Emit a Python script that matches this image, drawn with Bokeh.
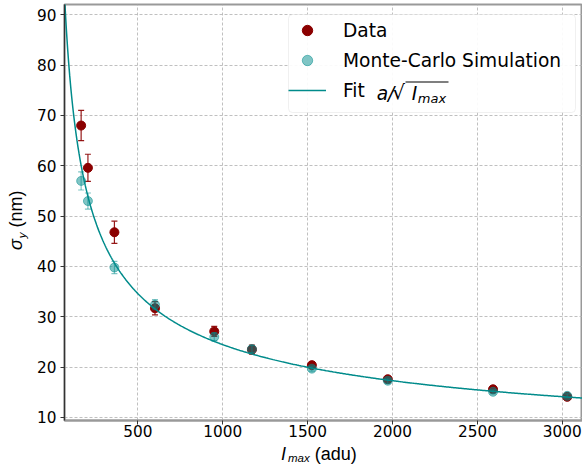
import numpy as np
from bokeh.plotting import figure
from bokeh.layouts import row, column
from bokeh.models import (Range1d, FixedTicker, Label, Legend, LegendItem,
                          BoxAnnotation, Div)
from bokeh.embed import file_html
from bokeh.resources import INLINE

# ---- data ----
I_MAX = [166, 206, 362, 601, 950, 1172, 1525, 1972, 2592, 3029]
SIGMA_DATA = [68.0, 59.6, 46.8, 31.7, 27.1, 23.5, 20.4, 17.6, 15.6, 14.1]
ERR_DATA = [3.0, 2.7, 2.2, 1.3, 1.0, 0.9, 0.6, 0.5, 0.5, 0.4]
SIGMA_SIM = [57.0, 53.0, 39.8, 32.4, 26.0, 23.6, 19.7, 17.3, 15.1, 14.3]
ERR_SIM = [1.8, 1.6, 1.2, 1.0, 0.8, 0.7, 0.5, 0.5, 0.4, 0.4]
FIT_A = 774.0          # fitted parameter a in a/sqrt(I_max)
X_TICKS = [500, 1000, 1500, 2000, 2500, 3000]
Y_TICKS = [10, 20, 30, 40, 50, 60, 70, 80, 90]
X_RANGE = (68, 3119)
Y_RANGE = (9.4, 92.05)

RED = "#8b0000"
TEAL = "#008b8b"
FONT = "DejaVu Sans"

# layout geometry (page px)
YLAB_W = 30
PW, PH = 582 - YLAB_W, 442
XLAB_H = 465 - PH
MB_L, MB_T, MB_B = 34, 4, 22
FL = YLAB_W + MB_L      # frame left (page)
FB = PH - MB_B          # frame bottom (page)


def sx(px):
    return px - FL


def sy(py):
    return FB - py


p = figure(width=PW, height=PH, output_backend="svg", toolbar_location=None,
           x_range=Range1d(*X_RANGE), y_range=Range1d(*Y_RANGE),
           min_border_left=MB_L, min_border_right=0, min_border_top=MB_T,
           min_border_bottom=MB_B)
p.background_fill_color = "white"
p.border_fill_color = "white"
p.outline_line_color = "#999999"
p.outline_line_width = 2

for g in (p.xgrid, p.ygrid):
    g.grid_line_color = "#b0b0b0"
    g.grid_line_dash = "3 2"
    g.grid_line_width = 0.8
p.xaxis.ticker = FixedTicker(ticks=X_TICKS)
p.yaxis.ticker = FixedTicker(ticks=Y_TICKS)

for ax in (p.xaxis, p.yaxis):
    ax.major_label_text_font = FONT
    ax.major_label_text_font_size = "15.3px"
    ax.major_label_text_color = "#000000"
    ax.major_tick_out = 4
    ax.major_tick_in = 0
    ax.minor_tick_out = 0
    ax.major_tick_line_color = "#333333"
    ax.minor_tick_line_color = None
    ax.axis_label = None
p.xaxis.axis_line_color = "#999999"
p.xaxis.axis_line_width = 2
p.yaxis.axis_line_color = "#333333"
p.yaxis.axis_line_width = 1.3
p.xaxis.major_label_standoff = 0
p.yaxis.major_label_standoff = 4

# legend background box (drawn over the grid, under the legend entries)
p.add_layout(BoxAnnotation(left=sx(288), right=sx(575), top=sy(14), bottom=sy(112),
                           left_units="screen", right_units="screen",
                           top_units="screen", bottom_units="screen",
                           fill_color="white", fill_alpha=0.92,
                           line_color="#cccccc", line_width=1, border_radius=4,
                           level="glyph"))

x = np.array(I_MAX, dtype=float)
yd = np.array(SIGMA_DATA)
ed = np.array(ERR_DATA)
ys = np.array(SIGMA_SIM)
es = np.array(ERR_SIM)

# data error bars + markers
p.segment(x0=x, y0=yd - ed, x1=x, y1=yd + ed, line_color=RED, line_width=1.2, line_alpha=0.9)
p.scatter(x=np.concatenate([x, x]), y=np.concatenate([yd - ed, yd + ed]), marker="dash",
          size=6, line_color=RED, line_width=1.2, line_alpha=0.9)
r_data = p.scatter(x=x, y=yd, size=9, fill_color=RED, line_color=RED)

# simulation error bars + markers
p.segment(x0=x, y0=ys - es, x1=x, y1=ys + es, line_color=TEAL, line_width=1.2, line_alpha=0.5)
p.scatter(x=np.concatenate([x, x]), y=np.concatenate([ys - es, ys + es]), marker="dash",
          size=6, line_color=TEAL, line_width=1.2, line_alpha=0.5)
r_sim = p.scatter(x=x, y=ys, size=9, fill_color=TEAL, line_color=TEAL,
                  fill_alpha=0.5, line_alpha=0.5)

# fit curve
xf = np.linspace(X_RANGE[0], X_RANGE[1], 500)
r_fit = p.line(x=xf, y=FIT_A / np.sqrt(xf), line_color=TEAL, line_width=1.5)

# legend (transparent; background is the box above)
legend = Legend(items=[LegendItem(label="Data", renderers=[r_data]),
                       LegendItem(label="Monte-Carlo Simulation", renderers=[r_sim]),
                       LegendItem(label="Fit", renderers=[r_fit])],
                location=(sx(288), sy(112) + 9))
legend.label_text_font = FONT
legend.label_text_font_size = "18.6px"
legend.label_text_color = "#000000"
legend.padding = 6
legend.spacing = 4
legend.glyph_width = 38
legend.glyph_height = 26
legend.label_height = 26
legend.label_standoff = 17
legend.margin = 0
legend.border_line_color = None
legend.background_fill_alpha = 0.0
p.add_layout(legend)


def lab(fig, text, x0, y0, size, style="normal"):
    fig.add_layout(Label(x=x0, y=y0, x_units="screen", y_units="screen",
                         text=text, text_font=FONT, text_font_size=size,
                         text_font_style=style, text_color="#000000",
                         text_align="center", text_baseline="middle",
                         level="overlay"))


# math part of the fit label: a/sqrt(I_max)  (centres, page px)
lab(p, "a/", sx(385), sy(92.5), "18.6px", "italic")
lab(p, "\u221a", sx(398), sy(91.5), "20px")
lab(p, "I", sx(414), sy(92.5), "18.6px", "italic")
lab(p, "max", sx(431.5), sy(97.5), "13px", "italic")
p.add_layout(BoxAnnotation(left=sx(405), right=sx(448), top=sy(80.9), bottom=sy(82.1),
                           left_units="screen", right_units="screen",
                           top_units="screen", bottom_units="screen",
                           fill_color="#000000", fill_alpha=1.0, line_color=None,
                           level="overlay"))

# axis labels as inline SVG text (sigma_y (nm) rotated; I_max (adu))
FONT_ATTR = 'font-family="DejaVu Sans" fill="#000000" style="white-space:pre"'
ylab_html = (
    f'<svg xmlns="http://www.w3.org/2000/svg" width="{YLAB_W}" height="{PH}" style="display:block">'
    f'<text transform="translate(22,250) rotate(-90)" font-size="18px" {FONT_ATTR}>'
    '<tspan font-style="italic">\u03c3</tspan>'
    '<tspan font-style="italic" font-size="11.5px" dx="1" dy="4">y</tspan>'
    '<tspan dy="-4"> (nm)</tspan></text></svg>'
)
xlab_html = (
    f'<svg xmlns="http://www.w3.org/2000/svg" width="582" height="{XLAB_H}" style="display:block">'
    f'<text x="281" y="{459.5 - PH}" font-size="18px" {FONT_ATTR}>'
    '<tspan font-style="italic">I</tspan>'
    '<tspan font-style="italic" font-size="11.5px" dx="2" dy="2.5">max</tspan>'
    '<tspan dy="-2.5"> (adu)</tspan></text></svg>'
)
ylab = Div(text=ylab_html, width=YLAB_W, height=PH, margin=0)
xlab = Div(text=xlab_html, width=582, height=XLAB_H, margin=0)

layout = column(row(ylab, p, spacing=0), xlab, spacing=0)
open("out.html", "w").write(file_html(layout, INLINE))
